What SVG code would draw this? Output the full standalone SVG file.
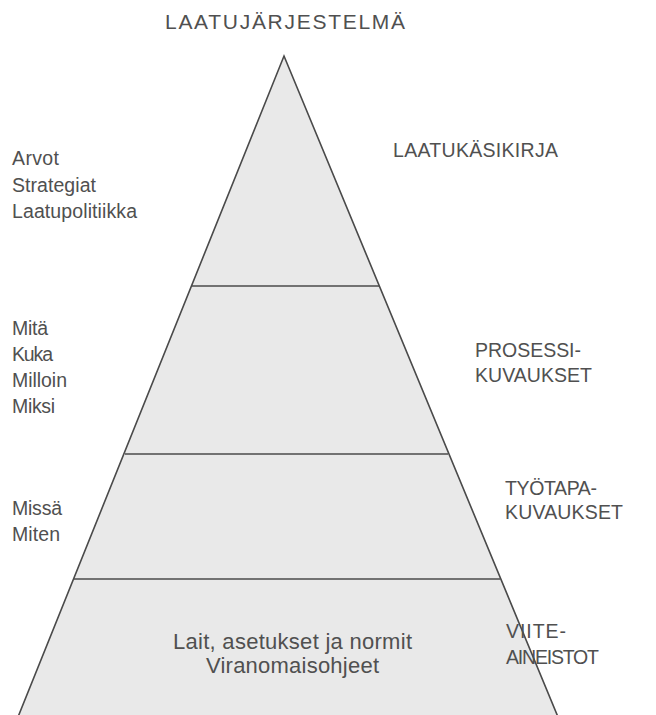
<svg xmlns="http://www.w3.org/2000/svg" width="656" height="715" viewBox="0 0 656 715">
<style>
.t{font-family:"Liberation Sans",Arial,Helvetica,sans-serif;fill:#505050;font-size:19.5px}
.h{font-size:21px}
.b{font-size:22px}
.edge{fill:#e9e9e9;stroke:#4a4a4a;stroke-width:1.6}
.div{stroke:#4a4a4a;stroke-width:1.6;fill:none}
</style>
<rect width="656" height="715" fill="#ffffff"/>
<g id="pyramid">
<polygon class="edge" points="284,56 558,717 18,717"/>
</g>
<g id="connectors">
<line class="div" x1="192" y1="286" x2="379" y2="286"/>
<line class="div" x1="125" y1="454" x2="448" y2="454"/>
<line class="div" x1="74" y1="579" x2="500" y2="579"/>
</g>
<g id="title"><text class="t h" x="165" y="29" textLength="240" lengthAdjust="spacing">LAATUJÄRJESTELMÄ</text></g>
<g id="left1">
<text class="t" x="12" y="165" textLength="47" lengthAdjust="spacing">Arvot</text>
<text class="t" x="12" y="192" textLength="84" lengthAdjust="spacing">Strategiat</text>
<text class="t" x="12" y="218" textLength="125" lengthAdjust="spacing">Laatupolitiikka</text>
</g>
<g id="left2">
<text class="t" x="12" y="335" textLength="36" lengthAdjust="spacing">Mitä</text>
<text class="t" x="12" y="361" textLength="41" lengthAdjust="spacing">Kuka</text>
<text class="t" x="12" y="387" textLength="55" lengthAdjust="spacing">Milloin</text>
<text class="t" x="12" y="413" textLength="43" lengthAdjust="spacing">Miksi</text>
</g>
<g id="left3">
<text class="t" x="12" y="515" textLength="50" lengthAdjust="spacing">Missä</text>
<text class="t" x="12" y="541" textLength="48" lengthAdjust="spacing">Miten</text>
</g>
<g id="r1"><text class="t" x="393" y="157" textLength="165" lengthAdjust="spacing">LAATUKÄSIKIRJA</text></g>
<g id="r2">
<text class="t" x="475" y="357" textLength="106" lengthAdjust="spacing">PROSESSI-</text>
<text class="t" x="475" y="382" textLength="117" lengthAdjust="spacing">KUVAUKSET</text>
</g>
<g id="r3">
<text class="t" x="505" y="495" textLength="92" lengthAdjust="spacing">TYÖTAPA-</text>
<text class="t" x="505" y="519" textLength="118" lengthAdjust="spacing">KUVAUKSET</text>
</g>
<g id="r4">
<text class="t" x="506" y="638" textLength="60" lengthAdjust="spacing">VIITE-</text>
<text class="t" x="506" y="664" textLength="93" lengthAdjust="spacing">AINEISTOT</text>
</g>
<g id="base">
<text class="t b" x="173" y="649" textLength="239" lengthAdjust="spacing">Lait, asetukset ja normit</text>
<text class="t b" x="206" y="673" textLength="173" lengthAdjust="spacing">Viranomaisohjeet</text>
</g>
</svg>
